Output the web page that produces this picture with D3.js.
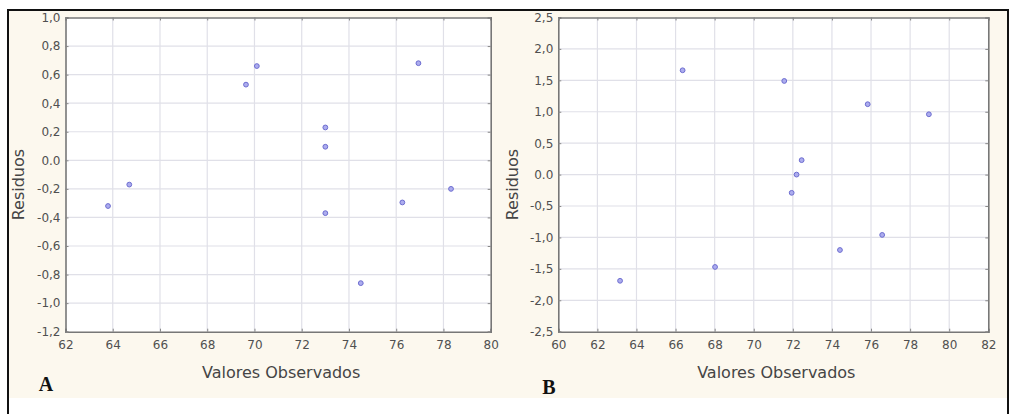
<!DOCTYPE html>
<html>
<head>
<meta charset="utf-8">
<script src="https://cdn.jsdelivr.net/npm/d3@7"></script>
<style>
  html, body { margin: 0; padding: 0; background: #fff; }
  svg { display: block; font-family: "DejaVu Sans", sans-serif; }
</style>
</head>
<body>
<svg id="chart" width="1011" height="414"></svg>
<script>
// panel A: observed values vs residuals
const obsA = [63.8, 64.7, 69.64, 70.1, 73.0, 73.0, 73.0, 74.5, 76.26, 76.94, 78.32];
const resA = [-0.32, -0.17, 0.53, 0.66, 0.23, 0.095, -0.37, -0.86, -0.295, 0.68, -0.20];
const xTicksA = [62, 64, 66, 68, 70, 72, 74, 76, 78, 80];
const yTicksA = [1.0, 0.8, 0.6, 0.4, 0.2, 0.0, -0.2, -0.4, -0.6, -0.8, -1.0, -1.2];
const yLabelsA = ['1,0', '0,8', '0,6', '0,4', '0,2', '0.0', '-0,2', '-0,4', '-0,6', '-0,8', '-1,0', '-1,2'];

// panel B
const obsB = [63.16, 66.36, 68.02, 71.56, 71.94, 72.19, 72.45, 74.41, 75.83, 76.57, 78.96];
const resB = [-1.69, 1.66, -1.47, 1.49, -0.29, 0.0, 0.23, -1.20, 1.12, -0.96, 0.96];
const xTicksB = [60, 62, 64, 66, 68, 70, 72, 74, 76, 78, 80, 82];
const yTicksB = [2.5, 2.0, 1.5, 1.0, 0.5, 0.0, -0.5, -1.0, -1.5, -2.0, -2.5];
const yLabelsB = ['2,5', '2,0', '1,5', '1,0', '0,5', '0.0', '-0,5', '-1,0', '-1,5', '-2,0', '-2,5'];

const svg = d3.select('#chart');

// page background and frame
svg.append('rect').attr('x', 8).attr('y', 10).attr('width', 1000).attr('height', 388)
  .attr('fill', '#fcf8ee');
svg.append('rect').attr('x', 8).attr('y', 10).attr('width', 1000).attr('height', 410)
  .attr('fill', 'none').attr('stroke', '#111').attr('stroke-width', 2);

function panel(opts) {
  const {left, right, top, bottom, xs, ys, xTicks, yTicks, yLabels, letter, letterX, letterY, ylabX} = opts;
  const x = d3.scaleLinear().domain([xTicks[0], xTicks[xTicks.length - 1]]).range([left, right]);
  const y = d3.scaleLinear().domain([yTicks[yTicks.length - 1], yTicks[0]]).range([bottom, top]);
  const g = svg.append('g');

  g.append('rect').attr('x', left).attr('y', top)
    .attr('width', right - left).attr('height', bottom - top).attr('fill', '#fff');

  // grid
  g.append('g').selectAll('line').data(xTicks.slice(1, -1)).join('line')
    .attr('x1', d => x(d)).attr('x2', d => x(d)).attr('y1', top).attr('y2', bottom)
    .attr('stroke', '#e0e0e8').attr('stroke-width', 1.2);
  g.append('g').selectAll('line').data(yTicks.slice(1, -1)).join('line')
    .attr('y1', d => y(d)).attr('y2', d => y(d)).attr('x1', left).attr('x2', right)
    .attr('stroke', '#e0e0e8').attr('stroke-width', 1.2);

  // axes with inner ticks
  const fmt = d => yLabels[yTicks.indexOf(d)];
  const ax = [
    g.append('g').attr('transform', `translate(0,${bottom})`)
      .call(d3.axisBottom(x).tickValues(xTicks).tickSize(-3).tickPadding(9).tickFormat(d3.format('d'))),
    g.append('g').attr('transform', `translate(${left},0)`)
      .call(d3.axisLeft(y).tickValues(yTicks).tickSize(-3).tickPadding(5).tickFormat(fmt)),
    g.append('g').attr('transform', `translate(0,${top})`)
      .call(d3.axisTop(x).tickValues(xTicks).tickSize(-3).tickFormat('')),
    g.append('g').attr('transform', `translate(${right},0)`)
      .call(d3.axisRight(y).tickValues(yTicks).tickSize(-3).tickFormat(''))
  ];
  ax.forEach(a => {
    a.select('.domain').attr('stroke', '#777').attr('stroke-width', 1.6);
    a.selectAll('.tick line').attr('stroke', '#888');
    a.selectAll('text').attr('fill', '#505050').attr('font-size', 12)
      .attr('font-family', '"DejaVu Sans", sans-serif');
  });

  // points
  g.append('g').selectAll('circle').data(xs.map((v, i) => [v, ys[i]])).join('circle')
    .attr('cx', d => x(d[0])).attr('cy', d => y(d[1])).attr('r', 2.4)
    .attr('fill', '#acacee').attr('stroke', '#6c6cd0').attr('stroke-width', 1);

  g.append('text').attr('x', (left + right) / 2 + 3).attr('y', 378)
    .attr('text-anchor', 'middle').attr('font-size', 16).attr('fill', '#454545')
    .text('Valores Observados');
  g.append('text').attr('transform', `translate(${ylabX},${(top + bottom) / 2 + 10}) rotate(-90)`)
    .attr('text-anchor', 'middle').attr('font-size', 16).attr('fill', '#454545')
    .text('Residuos');
  g.append('text').attr('x', letterX).attr('y', letterY)
    .attr('text-anchor', 'middle').attr('font-size', 20).attr('font-weight', 'bold')
    .attr('font-family', '"Liberation Serif", "Times New Roman", serif').attr('fill', '#111')
    .text(letter);
}

panel({left: 65.5, right: 490.7, top: 17.5, bottom: 331.7, xs: obsA, ys: resA,
  xTicks: xTicksA, yTicks: yTicksA, yLabels: yLabelsA, letter: 'A', letterX: 46, letterY: 391, ylabX: 24});
panel({left: 558.3, right: 988.3, top: 17.5, bottom: 331.7, xs: obsB, ys: resB,
  xTicks: xTicksB, yTicks: yTicksB, yLabels: yLabelsB, letter: 'B', letterX: 549, letterY: 394, ylabX: 518});
</script>
</body>
</html>
